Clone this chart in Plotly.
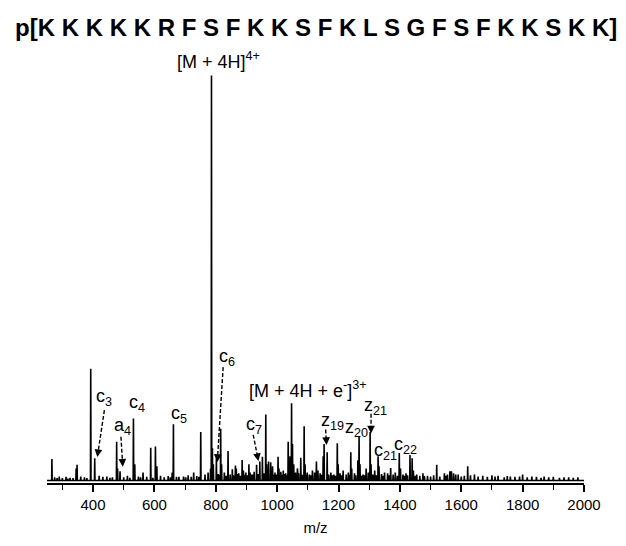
import numpy as np
import plotly.graph_objects as go

# ---------------- data ----------------
title_text = "p[K K K K K R F S F K K S F K L S G F S F K K S K K]"

peak_mz = [266, 345, 348, 392.5, 405.5, 477, 480, 488, 531.7, 536, 563, 588, 603.4, 608,
           658, 662, 728, 751, 783, 786, 789, 792, 802, 816, 819, 840, 854, 864, 867, 886,
           890, 908, 912, 933, 943.5, 952, 963, 966, 972, 979, 985, 1003, 1006, 1020, 1036,
           1042, 1047, 1050, 1054, 1066, 1077, 1088, 1091, 1115, 1128, 1133, 1150, 1153,
           1163, 1175, 1196, 1199, 1215, 1240, 1243, 1263, 1267, 1270, 1290, 1303, 1306,
           1318, 1329, 1332, 1350, 1370, 1385, 1398, 1402, 1433, 1440, 1444, 1475, 1520,
           1545, 1563, 1568, 1590, 1621, 1643, 1700, 1720, 1760, 1800, 1830, 1870, 1950]
peak_int = [5.3, 3.0, 3.9, 27.6, 5.5, 9.6, 3.0, 2.3, 15.3, 4.0, 2.0, 8.1, 8.4, 3.5,
            2.0, 13.9, 2.0, 12.0, 3.0, 100.0, 8.0, 4.0, 5.5, 12.8, 4.0, 7.3, 2.8, 3.7, 3.0, 5.1,
            2.5, 4.0, 2.0, 3.9, 4.7, 5.9, 16.3, 4.0, 4.7, 4.5, 3.5, 5.9, 3.0, 2.5, 9.6,
            6.0, 19.1, 9.0, 4.0, 3.0, 5.6, 13.4, 4.0, 2.5, 4.7, 2.5, 6.0, 9.0,
            7.0, 2.0, 9.2, 4.0, 2.5, 7.0, 3.0, 5.0, 10.8, 4.0, 3.0, 12.0, 4.0,
            2.5, 6.0, 3.5, 2.0, 3.1, 2.0, 6.8, 3.0, 6.3, 5.5, 2.5, 1.8, 3.9,
            1.8, 2.3, 2.3, 1.5, 3.5, 1.5, 1.3, 1.2, 1.0, 1.5, 1.0, 1.0, 0.8]

noise_mz = [275, 283, 290, 300, 312, 318, 325, 335, 360, 372, 380, 420, 432, 445, 455,
            463, 500, 512, 520, 548, 555, 575, 595, 620, 632, 645, 652, 672, 680, 695,
            702, 710, 720, 738, 745, 765, 775, 808, 812, 828, 834, 847, 858, 872, 875,
            880, 895, 898, 903, 917, 920, 925, 938, 958, 990, 993, 998, 1012, 1015, 1025,
            1028, 1032, 1058, 1060, 1070, 1082, 1095, 1098, 1105, 1110, 1122, 1125, 1140,
            1145, 1168, 1180, 1185, 1190, 1205, 1210, 1225, 1232, 1236, 1252, 1256, 1275,
            1280, 1285, 1297, 1312, 1323, 1340, 1345, 1360, 1365, 1378, 1392, 1410, 1415,
            1420, 1425, 1450, 1455, 1465, 1480, 1490, 1500, 1510, 1530, 1550, 1555, 1575,
            1582, 1600, 1610, 1630, 1655, 1670, 1685, 1710, 1740, 1750, 1775, 1790, 1815,
            1845, 1860, 1885, 1900, 1920, 1935, 1965, 1980]
noise_int = [0.8, 0.6, 1.0, 0.6, 0.9, 0.5, 0.7, 0.6, 1.0, 0.8, 0.6, 1.2, 0.9, 1.0, 0.7,
             0.8, 0.8, 1.2, 0.7, 1.0, 0.8, 0.9, 0.7, 1.2, 0.8, 1.1, 0.8, 0.9, 0.9, 1.0,
             0.8, 1.3, 0.9, 1.1, 0.9, 1.5, 2.0, 1.6, 1.4, 2.0, 1.2, 1.5, 1.3, 1.6, 1.8,
             1.2, 1.4, 2.0, 1.3, 1.5, 1.5, 2.2, 1.6, 1.8, 1.4, 2.0, 1.5, 2.2, 1.4, 1.6,
             1.8, 1.3, 1.6, 2.0, 1.8, 1.4, 1.5, 2.0, 1.5, 1.3, 2.0, 1.4, 1.8,
             1.4, 1.5, 1.3, 1.5, 1.2, 1.8, 1.3, 1.5, 2.0, 1.4, 1.8, 1.3, 1.2,
             1.5, 1.3, 2.0, 1.5, 1.3, 1.6, 1.2, 1.8, 1.3, 1.5, 1.2, 1.5, 1.2,
             1.8, 1.3, 1.2, 1.5, 1.2, 1.1, 1.2, 1.0, 1.3, 1.0, 1.2, 1.5, 1.8,
             1.5, 1.0, 1.2, 1.3, 1.0, 1.2, 0.9, 1.0, 0.8, 1.1, 0.9, 1.0, 0.8,
             0.9, 0.7, 0.8, 0.9, 0.7, 0.8, 0.7, 0.8]

x_tick_vals = [400, 600, 800, 1000, 1200, 1400, 1600, 1800, 2000]
x_tick_text = ["400", "600", "800", "1000", "1200", "1400", "1600", "1800", "2000"]

# fragment labels: text, m/z, intensity (label centre)
label_text = ["c<sub>3</sub>", "a<sub>4</sub>", "c<sub>4</sub>", "c<sub>5</sub>",
              "c<sub>6</sub>", "c<sub>7</sub>", "z<sub>19</sub>", "z<sub>20</sub>",
              "z<sub>21</sub>", "c<sub>21</sub>", "c<sub>22</sub>"]
label_mz = [437, 497, 542, 679, 835, 925, 1180, 1259, 1320, 1354, 1419]
label_int = [20.6, 13.3, 18.9, 16.2, 30.3, 13.5, 14.7, 12.8, 18.4, 7.1, 8.6]

# dashed arrows: from (mz, int) to tip (mz, int)
arrow_from_mz = [437, 491, 824, 922, 1158, 1306]
arrow_from_int = [17.4, 10.8, 28.0, 11.3, 12.6, 16.5]
arrow_to_mz = [414, 497, 805, 939, 1161, 1306]
arrow_to_int = [5.8, 3.4, 4.6, 4.8, 8.8, 11.6]

# ---------------- layout constants ----------------
W, H = 626, 546
ML, MR, MT, MB = 47, 42, 75, 58
X_RANGE = [250, 2000]
Y_RANGE = [-0.6, 100.1]
FONT = "Liberation Sans, Arial, sans-serif"

px_per_x = (W - ML - MR) / (X_RANGE[1] - X_RANGE[0])
px_per_y = (H - MT - MB) / (Y_RANGE[1] - Y_RANGE[0])

# ---------------- stick spectrum ----------------
mz_all = np.array(peak_mz + noise_mz, dtype=float)
int_all = np.array(peak_int + noise_int, dtype=float)
order = np.argsort(mz_all)
xs = [X_RANGE[0]]
ys = [0.0]
for m, i in zip(mz_all[order], int_all[order]):
    xs += [m - 0.9, m, m + 0.9]
    ys += [0.0, i, 0.0]
xs.append(X_RANGE[1])
ys.append(0.0)

fig = go.Figure()
fig.add_trace(go.Scatter(x=xs, y=ys, mode="lines",
                         line=dict(color="black", width=1.6),
                         hoverinfo="skip", showlegend=False))

annotations = []
shapes = []

# title
annotations.append(dict(text="<b>" + title_text + "</b>", xref="paper", yref="paper",
                        x=(316 - ML) / (W - ML - MR), y=(H - MB - 27) / (H - MT - MB),
                        showarrow=False, xanchor="center", yanchor="middle",
                        font=dict(family=FONT, size=24, color="black")))

# precursor labels
annotations.append(dict(text="[M + 4H]<sup>4+</sup>", xref="paper", yref="paper",
                        x=(218 - ML) / (W - ML - MR), y=(H - MB - 60) / (H - MT - MB),
                        showarrow=False, xanchor="center", yanchor="middle",
                        font=dict(family=FONT, size=18, color="black")))
annotations.append(dict(text="[M + 4H + e<sup>-</sup>]<sup>3+</sup>", xref="x", yref="y",
                        x=1100, y=22.6, showarrow=False, xanchor="center", yanchor="middle",
                        font=dict(family=FONT, size=18, color="black")))

for t, m, i in zip(label_text, label_mz, label_int):
    annotations.append(dict(text=t, xref="x", yref="y", x=m, y=i, showarrow=False,
                            xanchor="center", yanchor="middle",
                            font=dict(family=FONT, size=18, color="black")))

for fm, fi, tm, ti in zip(arrow_from_mz, arrow_from_int, arrow_to_mz, arrow_to_int):
    dx = (fm - tm) * px_per_x
    dy = -(fi - ti) * px_per_y
    L = (dx ** 2 + dy ** 2) ** 0.5
    shapes.append(dict(type="line", xref="x", yref="y", x0=fm, y0=fi,
                       x1=tm + (fm - tm) * 4 / L, y1=ti + (fi - ti) * 4 / L,
                       line=dict(color="black", width=1.4, dash="4px,2px")))
    annotations.append(dict(text="", xref="x", yref="y", x=tm, y=ti,
                            ax=dx * 8 / L, ay=dy * 8 / L, showarrow=True,
                            arrowhead=2, arrowsize=1.1, arrowwidth=1.4, arrowcolor="black"))

fig.update_layout(
    width=W, height=H,
    margin=dict(l=ML, r=MR, t=MT, b=MB, pad=0),
    paper_bgcolor="white", plot_bgcolor="white",
    font=dict(family=FONT, color="black"),
    annotations=annotations, shapes=shapes,
    xaxis=dict(range=X_RANGE, showgrid=False, zeroline=False,
               showline=True, linecolor="black", linewidth=2,
               ticks="outside", ticklen=7, tickwidth=1.6, tickcolor="black",
               tickvals=x_tick_vals, ticktext=x_tick_text,
               tickfont=dict(family=FONT, size=15, color="black"),
               minor=dict(tickvals=[300, 500, 700, 900, 1100, 1300, 1500, 1700, 1900],
                          ticks="outside", ticklen=5, tickwidth=1.4, tickcolor="black"),
               title=dict(text="m/z", font=dict(family=FONT, size=15, color="black"),
                          standoff=10)),
    yaxis=dict(range=Y_RANGE, visible=False, showgrid=False, zeroline=False),
)

fig.write_html("out.html")
